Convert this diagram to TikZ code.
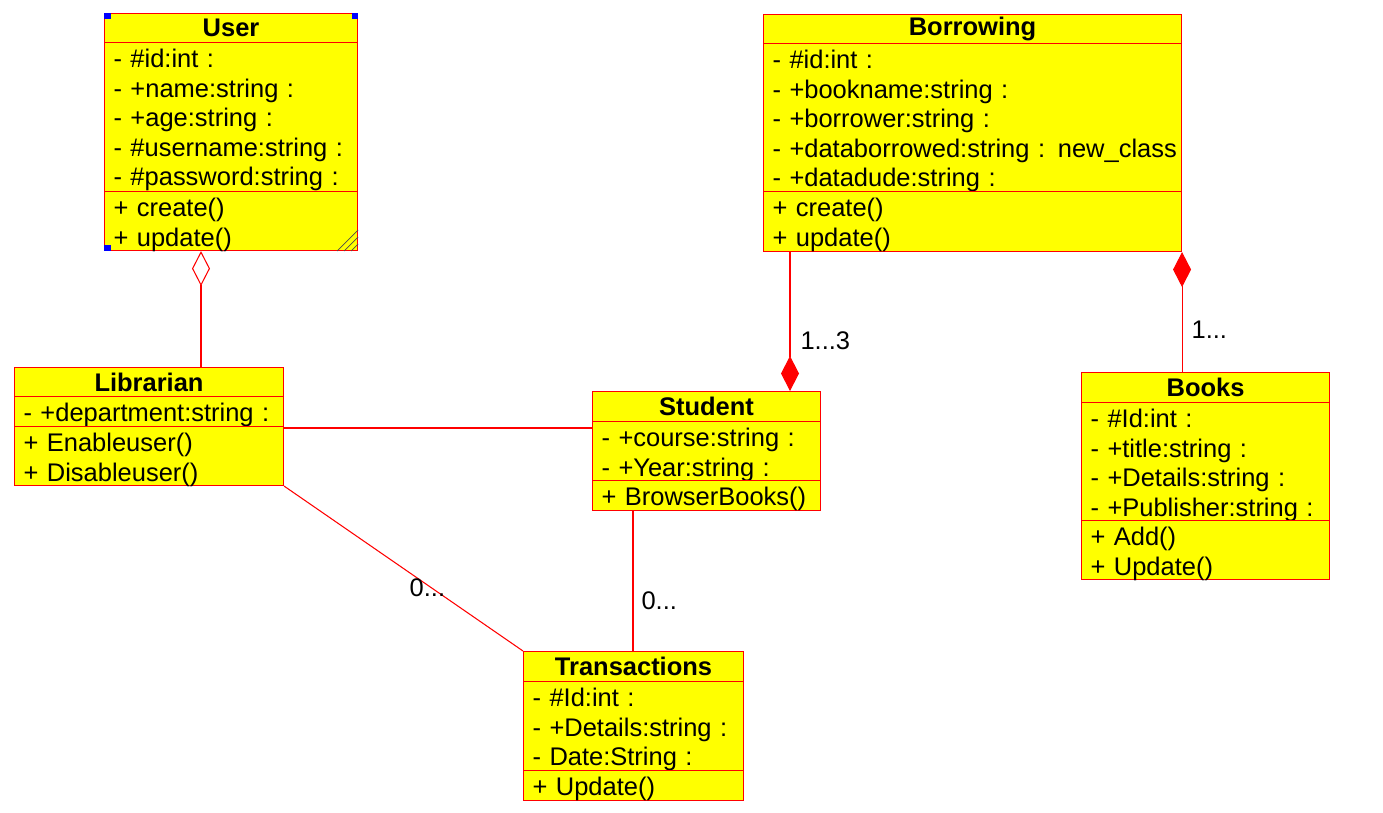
\documentclass[tikz,border=0pt]{standalone}
\usepackage{fontspec}
\setmainfont{Liberation Sans}
\usetikzlibrary{arrows.meta}
\definecolor{clsyellow}{RGB}{255,255,0}
\definecolor{clsred}{RGB}{255,0,0}

\begin{document}
\begin{tikzpicture}[line width=0.6pt,
    every node/.style={font=\fontsize{14.5}{16.8}\selectfont},
    cls/.style={draw=clsred, fill=clsyellow, anchor=north west, inner xsep=0.18cm, inner ysep=0pt},
    clshead/.style={cls, align=center, minimum height=#1, font=\fontsize{14.5}{16.8}\selectfont\bfseries},
    clsbody/.style={cls, align=left, text height=14.3pt, text depth={#1-14.3pt}},
    assoc/.style={draw=clsred},
    mult/.style={inner sep=0pt},
    comp/.style={-{Diamond[length=0.7cm, width=0.36cm]}},
    handle/.style={fill=blue, draw=none}]
    \useasboundingbox (0,0) rectangle (27.66,-16.26);

    % User
    \node[clshead=0.58cm, text width=4.70cm] (user_t) at (2.08,-0.26) {User};
    \node[clsbody=2.98cm, text width=4.70cm] (user_a) at (2.08,-0.84) {- \#id:int :\\- +name:string :\\- +age:string :\\- \#username:string :\\- \#password:string :};
    \node[clsbody=1.18cm, text width=4.70cm] (user_m) at (2.08,-3.82) {+ create()\\+ update()};

    % selection marks on User
    \fill[handle] (user_t.north west) rectangle ++(0.13,-0.13);
    \fill[handle] (user_t.north east) rectangle ++(-0.13,-0.13);
    \fill[handle] (user_m.south west) rectangle ++(0.13,0.13);
    \foreach \d in {0.14,0.28,0.42}
        \draw[black!70, line width=0.4pt] ([xshift=-\d cm]user_m.south east) -- ([yshift=\d cm]user_m.south east);

    % Borrowing
    \node[clshead=0.58cm, text width=8.00cm] (borr_t) at (15.26,-0.28) {Borrowing};
    \node[clsbody=2.96cm, text width=8.00cm] (borr_a) at (15.26,-0.86) {- \#id:int :\\- +bookname:string :\\- +borrower:string :\\\mbox{- +databorrowed:string : new\_class}\\- +datadude:string :};
    \node[clsbody=1.20cm, text width=8.00cm] (borr_m) at (15.26,-3.82) {+ create()\\+ update()};

    % Librarian
    \node[clshead=0.58cm, text width=5.02cm] (lib_t) at (0.28,-7.34) {Librarian};
    \node[clsbody=0.60cm, text width=5.02cm] (lib_a) at (0.28,-7.92) {- +department:string :};
    \node[clsbody=1.18cm, text width=5.02cm] (lib_m) at (0.28,-8.52) {+ Enableuser()\\+ Disableuser()};

    % Student
    \node[clshead=0.60cm, text width=4.20cm] (stud_t) at (11.84,-7.82) {Student};
    \node[clsbody=1.18cm, text width=4.20cm] (stud_a) at (11.84,-8.42) {- +course:string :\\- +Year:string :};
    \node[clsbody=0.60cm, text width=4.20cm] (stud_m) at (11.84,-9.60) {+ BrowserBooks()};

    % Books
    \node[clshead=0.60cm, text width=4.60cm] (books_t) at (21.62,-7.44) {Books};
    \node[clsbody=2.36cm, text width=4.60cm] (books_a) at (21.62,-8.04) {- \#Id:int :\\- +title:string :\\- +Details:string :\\- +Publisher:string :};
    \node[clsbody=1.18cm, text width=4.60cm] (books_m) at (21.62,-10.40) {+ Add()\\+ Update()};

    % Transactions
    \node[clshead=0.60cm, text width=4.04cm] (trans_t) at (10.46,-13.02) {Transactions};
    \node[clsbody=1.78cm, text width=4.04cm] (trans_a) at (10.46,-13.62) {- \#Id:int :\\- +Details:string :\\- Date:String :};
    \node[clsbody=0.60cm, text width=4.04cm] (trans_m) at (10.46,-15.40) {+ Update()};

    % Edges
    \coordinate (agg) at ([xshift=1.94cm]user_m.south west);
    \draw[assoc, {Diamond[open, length=0.7cm, width=0.36cm]}-] (agg) -- (agg |- lib_t.north);

    \coordinate (borr_stud) at ([xshift=0.54cm]borr_m.south west);
    \draw[assoc, comp] (borr_stud) -- (borr_stud |- stud_t.north) node[mult, pos=0.64, right=0.2cm] {1...3};

    \draw[assoc, {Diamond[length=0.7cm, width=0.36cm]}-] (borr_m.south east) -- (borr_m.south east |- books_t.north) node[mult, pos=0.65, right=0.18cm] {1...};

    \coordinate (lib_stud) at ([yshift=-0.04cm]lib_m.north east);
    \draw[assoc] (lib_stud) -- (lib_stud -| stud_a.west);

    \draw[assoc] (lib_m.south east) -- (trans_t.north west) node[mult, pos=0.6, yshift=-0.06cm] {0...};

    \coordinate (stud_trans) at ([xshift=0.82cm]stud_m.south west);
    \draw[assoc] (stud_trans) -- (stud_trans |- trans_t.north) node[mult, pos=0.64, right=0.16cm] {0...};
\end{tikzpicture}
\end{document}
